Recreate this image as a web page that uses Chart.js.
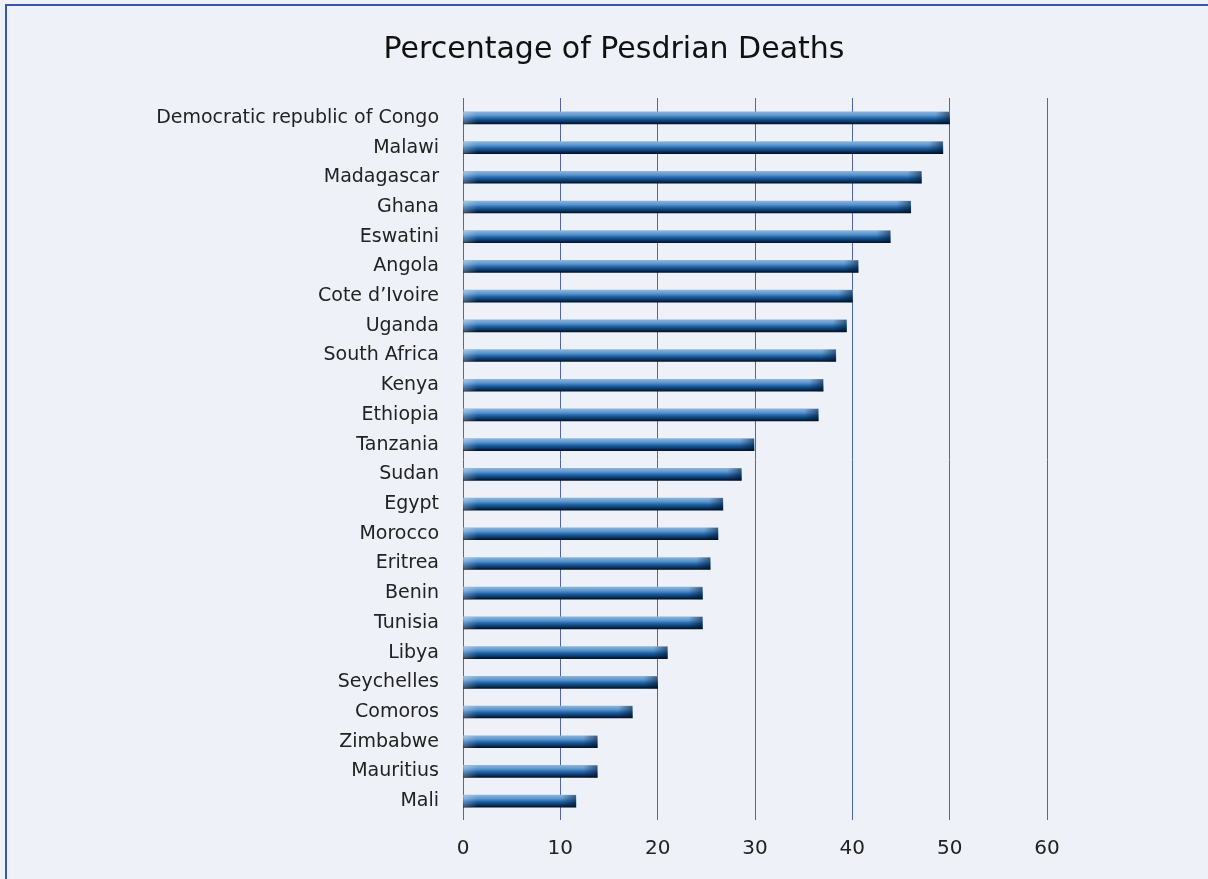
<!DOCTYPE html>
<html>
<head>
<meta charset="utf-8">
<script src="https://cdn.jsdelivr.net/npm/chart.js@4"></script>
<style>
  html, body { margin: 0; padding: 0; background: #EEF1F8; width: 1208px; height: 879px; overflow: hidden; }
  #frame { position: absolute; left: 5px; top: 4px; width: 1203px; height: 875px; border-left: 2px solid #3A56A8; border-top: 2px solid #3A56A8; box-sizing: border-box; }
  #wrap { position: absolute; left: 0; top: 0; width: 1208px; height: 879px; }
</style>
</head>
<body>
<div id="frame"></div>
<div id="wrap"><canvas id="c" width="1208" height="879"></canvas></div>
<script>
const titleText = "Percentage of Pesdrian Deaths";
const countries = [
  "Democratic republic of Congo", "Malawi", "Madagascar", "Ghana", "Eswatini",
  "Angola", "Cote d\u2019Ivoire", "Uganda", "South Africa", "Kenya", "Ethiopia",
  "Tanzania", "Sudan", "Egypt", "Morocco", "Eritrea", "Benin", "Tunisia",
  "Libya", "Seychelles", "Comoros", "Zimbabwe", "Mauritius", "Mali"
];
const deathShares = [
  50.0, 49.3, 47.1, 46.0, 43.9,
  40.6, 40.0, 39.4, 38.3, 37.0, 36.5,
  29.9, 28.6, 26.7, 26.2, 25.4, 24.6, 24.6,
  21.0, 20.0, 17.4, 13.8, 13.8, 11.6
];
const xTicks = [0, 10, 20, 30, 40, 50, 60];

const FONT = "'DejaVu Sans', 'Liberation Sans', sans-serif";
const GRID = '#5264AE';

function barGradient(ctx) {
  const chart = ctx.chart;
  const yScale = chart.scales && chart.scales.y;
  if (!yScale || ctx.dataIndex === undefined) return '#1a5fa0';
  const yc = yScale.getPixelForValue(ctx.dataIndex);
  if (!isFinite(yc)) return '#1a5fa0';
  const g = chart.ctx.createLinearGradient(0, yc - 6, 0, yc + 6);
  g.addColorStop(0, '#8ab4dc');
  g.addColorStop(0.3, '#5b94cb');
  g.addColorStop(0.55, '#1d62a5');
  g.addColorStop(0.8, '#0a3868');
  g.addColorStop(1, '#021226');
  return g;
}

const decor = {
  id: 'decor',
  beforeDatasetsDraw(chart) {
    const c = chart.ctx, x = chart.scales.x, top = chart.chartArea.top;
    c.save();
    c.strokeStyle = GRID; c.lineWidth = 1;
    xTicks.forEach(v => {
      const px = Math.round(x.getPixelForValue(v) - 0.5) + 0.5;
      c.beginPath(); c.moveTo(px, top - 5); c.lineTo(px, top); c.stroke();
    });
    c.restore();
  },
  afterDatasetsDraw(chart) {
    const c = chart.ctx;
    const meta = chart.getDatasetMeta(0);
    c.save();
    meta.data.forEach(bar => {
      const left = bar.base, right = bar.x, h = bar.height, t = bar.y - h / 2;
      const w = right - left;
      const lw = Math.min(14, w / 3);
      let g = c.createLinearGradient(left, 0, left + lw, 0);
      g.addColorStop(0, 'rgba(255,255,255,0.28)');
      g.addColorStop(1, 'rgba(255,255,255,0)');
      c.fillStyle = g; c.fillRect(left, t, lw, h);
      const rw = Math.min(14, w / 3);
      g = c.createLinearGradient(right - rw, 0, right, 0);
      g.addColorStop(0, 'rgba(0,20,45,0)');
      g.addColorStop(1, 'rgba(0,20,45,0.55)');
      c.fillStyle = g; c.fillRect(right - rw, t, rw, h);
    });
    c.restore();
  },
  afterDraw(chart) {
    const c = chart.ctx;
    c.save();
    c.fillStyle = '#111';
    c.font = "30px " + FONT;
    c.textAlign = 'center';
    c.textBaseline = 'middle';
    c.fillText(titleText, 614, 50);
    c.restore();
  }
};

new Chart(document.getElementById('c'), {
  type: 'bar',
  data: {
    labels: countries,
    datasets: [{
      data: deathShares,
      backgroundColor: barGradient,
      borderWidth: 0,
      barThickness: 12
    }]
  },
  plugins: [decor],
  options: {
    indexAxis: 'y',
    responsive: false,
    animation: false,
    layout: { padding: { left: 0, right: 161, top: 103, bottom: 0 } },
    plugins: {
      legend: { display: false },
      tooltip: { enabled: false },
      title: { display: false }
    },
    scales: {
      x: {
        min: 0, max: 60,
        afterBuildTicks: (s) => { s.ticks = xTicks.map(v => ({ value: v })); },
        afterFit: (s) => { s.height = 63; },
        grid: { display: true, color: GRID, lineWidth: 1, drawTicks: true, tickLength: 4, tickColor: GRID },
        border: { display: false },
        ticks: { color: '#222', font: { family: FONT, size: 20 }, padding: 17 }
      },
      y: {
        afterFit: (s) => { s.width = 463; },
        grid: { display: false, drawTicks: false },
        border: { display: false },
        ticks: { color: '#222', font: { family: FONT, size: 19 }, padding: 24, autoSkip: false }
      }
    }
  }
});
</script>
</body>
</html>
